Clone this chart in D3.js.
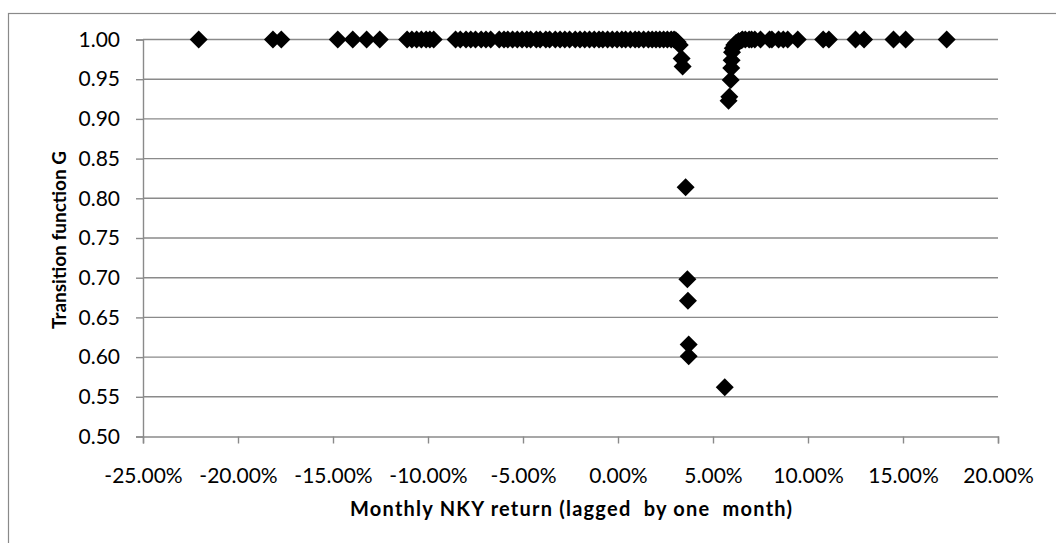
<!DOCTYPE html>
<html lang="en">
<head>
<meta charset="utf-8">
<title>Transition function G vs lagged NKY return</title>
<style>
  body { margin: 0; background: #fff; }
  svg { display: block; }
  .tick-label { font-family: Lato, "Open Sans", sans-serif; font-size: 21px; fill: #000; }
  .axis-title { font-family: Lato, "Open Sans", sans-serif; font-weight: bold; fill: #000; white-space: pre; }
</style>
<script src="https://d3js.org/d3.v7.min.js"></script>
</head>
<body>
<script>
// monthly NKY return (lagged one month), in percent
const returnPct = [
  -22.07, -18.16, -17.72,
  -14.75, -13.96, -13.23, -12.54,
  -11.10, -10.85, -10.60, -10.35, -10.10, -9.90, -9.70,
  -8.55, -8.30, -8.00, -7.75, -7.50, -7.20, -6.95, -6.70,
  -6.25, -6.00, -5.80, -5.55, -5.30, -5.05, -4.80, -4.60, -4.30, -4.10,
  -3.80, -3.60, -3.30, -3.05, -2.80, -2.55, -2.25, -2.00, -1.75, -1.50,
  -1.25, -1.00, -0.80, -0.55, -0.30, -0.05, 0.20, 0.40, 0.65, 0.90,
  1.10, 1.35, 1.60, 1.80, 2.00, 2.20, 2.40, 2.60, 2.80, 2.95,
  3.04, 3.14, 3.25, 3.35, 3.40,
  3.56, 3.65, 3.68, 3.72, 3.72,
  5.62,
  5.82, 5.86, 5.93, 5.96, 5.98, 6.00, 6.04, 6.12, 6.22, 6.35, 6.50,
  6.55, 6.70, 6.90, 7.03, 7.20, 7.50, 7.98, 8.10, 8.45, 8.70, 8.93, 9.46,
  10.80, 11.10, 12.50, 12.95, 14.50, 15.14, 17.30
];
// transition function G
const gValue = [
  1.000, 1.000, 1.000,
  1.000, 1.000, 1.000, 1.000,
  1.000, 1.000, 1.000, 1.000, 1.000, 1.000, 1.000,
  1.000, 1.000, 1.000, 1.000, 1.000, 1.000, 1.000, 1.000,
  1.000, 1.000, 1.000, 1.000, 1.000, 1.000, 1.000, 1.000, 1.000, 1.000,
  1.000, 1.000, 1.000, 1.000, 1.000, 1.000, 1.000, 1.000, 1.000, 1.000,
  1.000, 1.000, 1.000, 1.000, 1.000, 1.000, 1.000, 1.000, 1.000, 1.000,
  1.000, 1.000, 1.000, 1.000, 1.000, 1.000, 1.000, 1.000, 1.000, 1.000,
  0.999, 0.997, 0.993, 0.976, 0.966,
  0.814, 0.698, 0.671, 0.616, 0.601,
  0.562,
  0.923, 0.928, 0.949, 0.964, 0.974, 0.984, 0.989, 0.993, 0.996, 0.998, 0.999,
  1.000, 1.000, 1.000, 1.000, 1.000, 1.000, 1.000, 1.000, 1.000, 1.000, 1.000, 1.000,
  1.000, 1.000, 1.000, 1.000, 1.000, 1.000, 1.000
];
const xTicks = [-25, -20, -15, -10, -5, 0, 5, 10, 15, 20];
const yTicks = [0.50, 0.55, 0.60, 0.65, 0.70, 0.75, 0.80, 0.85, 0.90, 0.95, 1.00];

const width = 1056, height = 543;
const plotLeft = 143, plotRight = 998, plotTop = 39.5, plotBottom = 436.5;
const gridColor = "#8a8a8a";

const svg = d3.select("body").append("svg")
    .attr("width", width)
    .attr("height", height);

// outer chart frame (runs off the right and bottom edges)
svg.append("rect")
    .attr("x", 8.5).attr("y", 13.5)
    .attr("width", 1100).attr("height", 600)
    .attr("fill", "none")
    .attr("stroke", gridColor)
    .attr("stroke-width", 1.2);

const x = d3.scaleLinear().domain([-25, 20]).range([plotLeft, plotRight]);
const y = d3.scaleLinear().domain([0.5, 1.0]).range([plotBottom, plotTop]);

const fmtLocale = d3.formatLocale({decimal: ".", thousands: ",", grouping: [3], currency: ["", ""], minus: "-"});
const pctFmt = v => fmtLocale.format(".2f")(v) + "%";

// horizontal gridlines
svg.append("g").selectAll("line")
    .data(yTicks.filter(d => d > 0.5))
    .enter().append("line")
    .attr("x1", plotLeft).attr("x2", plotRight)
    .attr("y1", d => y(d)).attr("y2", d => y(d))
    .attr("stroke", gridColor)
    .attr("stroke-width", 1.4);

// y axis
const yAxis = svg.append("g")
    .attr("transform", `translate(${plotLeft},0)`)
    .call(d3.axisLeft(y).tickValues(yTicks).tickSize(7).tickPadding(16).tickFormat(d3.format(".2f")));
yAxis.select(".domain").attr("stroke", gridColor).attr("stroke-width", 1.4);
yAxis.selectAll(".tick line").attr("stroke", gridColor).attr("stroke-width", 1.4);
yAxis.selectAll(".tick text").attr("class", "tick-label").attr("font-family", null).attr("font-size", null);

// x axis
const xAxis = svg.append("g")
    .attr("transform", `translate(0,${plotBottom})`)
    .call(d3.axisBottom(x).tickValues(xTicks).tickSize(7).tickPadding(25).tickFormat(pctFmt));
xAxis.select(".domain").attr("stroke", gridColor).attr("stroke-width", 1.4);
xAxis.selectAll(".tick line").attr("stroke", gridColor).attr("stroke-width", 1.4);
xAxis.selectAll(".tick text").attr("class", "tick-label").attr("font-family", null).attr("font-size", null);

// points
const pts = returnPct.map((r, i) => ({r: r, g: gValue[i]}));
svg.append("g").selectAll("path")
    .data(pts)
    .enter().append("path")
    .attr("d", "M0,-9L9,0L0,9L-9,0Z")
    .attr("transform", d => `translate(${x(d.r)},${y(d.g)})`)
    .attr("fill", "#000");

// axis titles
svg.append("text")
    .attr("class", "axis-title")
    .attr("x", 571).attr("y", 516)
    .attr("text-anchor", "middle")
    .style("font-size", "20px")
    .attr("textLength", 442)
    .attr("lengthAdjust", "spacing")
    .text("Monthly NKY return (lagged  by one  month)");

svg.append("text")
    .attr("class", "axis-title")
    .attr("transform", "translate(66,240) rotate(-90)")
    .attr("text-anchor", "middle")
    .style("font-size", "19px")
    .text("Transition function G");
</script>
</body>
</html>
